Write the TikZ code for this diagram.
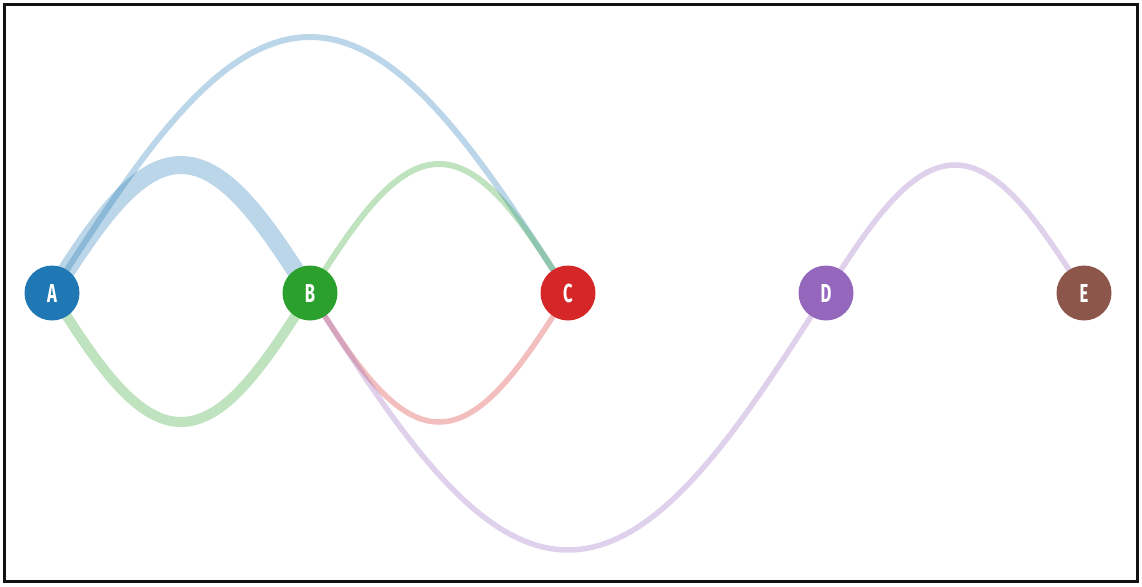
\documentclass[tikz,border=0pt]{standalone}
\usepackage{fontspec}
\setsansfont{Fira Sans}
\usetikzlibrary{calc}
\definecolor{cA}{HTML}{1F77B4}
\definecolor{cB}{HTML}{2CA02C}
\definecolor{cC}{HTML}{D62728}
\definecolor{cD}{HTML}{9467BD}
\definecolor{cE}{HTML}{8C564B}
\pgfdeclarelayer{bg}
\pgfsetlayers{bg,main}
\tikzset{
  vert/.style={circle, fill=#1, draw=none, minimum size=55pt, inner sep=0pt,
    text=white, font=\sffamily\bfseries\fontsize{26}{26}\selectfont},
  link/.style={draw=#1, draw opacity=0.3, line cap=butt},
  frame/.style={draw=black!93, line width=3pt}
}
\newcommand{\lbl}[1]{\scalebox{0.64}[1]{#1}}
\begin{document}
\begin{tikzpicture}[x=1pt,y=-1pt]
\useasboundingbox (0,0) rectangle (1142,586);
\node[vert=cA] (A) at (52,293) {\lbl{A}};
\node[vert=cB] (B) at (310,293) {\lbl{B}};
\node[vert=cC] (C) at (568,293) {\lbl{C}};
\node[vert=cD] (D) at (826,293) {\lbl{D}};
\node[vert=cE] (E) at (1084,293) {\lbl{E}};
\coordinate (ABu) at ($(A)!0.5!(B)+(0,-128)$);
\coordinate (ABd) at ($(A)!0.5!(B)+(0,129)$);
\coordinate (ACu) at ($(A)!0.5!(C)+(0,-256)$);
\coordinate (BCu) at ($(B)!0.5!(C)+(0,-129)$);
\coordinate (BCd) at ($(B)!0.5!(C)+(0,129)$);
\coordinate (BDd) at ($(B)!0.5!(D)+(0,257)$);
\coordinate (DEu) at ($(D)!0.5!(E)+(0,-128)$);
\begin{pgfonlayer}{bg}
\draw[link=cA, line width=18pt] (A.center) sin (ABu) cos (B.center);
\draw[link=cB, line width=10pt] (A.center) sin (ABd) cos (B.center);
\draw[link=cA, line width=6pt] (A.center) sin (ACu) cos (C.center);
\draw[link=cB, line width=6pt] (B.center) sin (BCu) cos (C.center);
\draw[link=cC, line width=5.5pt] (B.center) sin (BCd) cos (C.center);
\draw[link=cD, line width=5.5pt] (B.center) sin (BDd) cos (D.center);
\draw[link=cD, line width=5.5pt] (D.center) sin (DEu) cos (E.center);
\end{pgfonlayer}
\draw[frame] (4.5,4.5) rectangle (1137.5,581.5);
\end{tikzpicture}
\end{document}
